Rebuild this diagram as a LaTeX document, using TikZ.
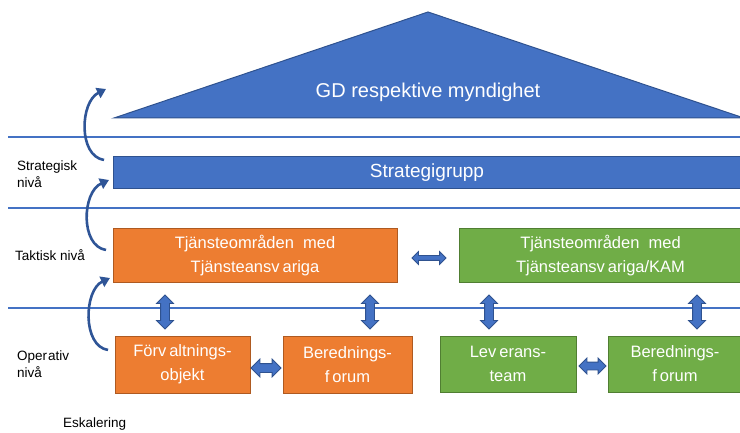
\documentclass[tikz,border=0pt]{standalone}
\usepackage{fontspec}
\setmainfont{Liberation Sans}
\usetikzlibrary{arrows.meta,shapes.arrows}

\definecolor{accblue}{HTML}{4472C4}
\definecolor{accblueline}{HTML}{2F528F}
\definecolor{accorange}{HTML}{ED7D31}
\definecolor{accorangeline}{HTML}{AE5A21}
\definecolor{accgreen}{HTML}{70AD47}
\definecolor{accgreenline}{HTML}{507E32}
\definecolor{arrowblue}{HTML}{2F5597}

\tikzset{
  levelline/.style={accblue, line width=1.3pt},
  boxbase/.style={rectangle, line width=1pt, inner sep=2pt, align=center,
    text=white, font=\fontsize{16.5}{24}\selectfont},
  bluebox/.style={boxbase, fill=accblue, draw=accblueline},
  orangebox/.style={boxbase, fill=accorange, draw=accorangeline},
  greenbox/.style={boxbase, fill=accgreen, draw=accgreenline},
  levellabel/.style={anchor=west, align=left, inner sep=0pt,
    font=\fontsize{13.5}{17}\selectfont},
  linkbase/.style={shape=double arrow, fill=accblue, draw=accblueline,
    line width=0.8pt, inner xsep=0pt, double arrow head indent=0pt},
  vlink/.style={linkbase, rotate=90, minimum height=34pt, inner ysep=4pt,
    double arrow head extend=4pt},
  hlink/.style={linkbase},
  escalate/.style={arrowblue, line width=2.6pt,
    -{Triangle[length=9pt,width=11pt]}},
}

\begin{document}
\begin{tikzpicture}[x=1pt,y=-1pt]
  \useasboundingbox (0,0) rectangle (740,433);

  % level separators
  \draw[levelline] (8,137) -- (742,137);
  \draw[levelline] (8,208) -- (742,208);
  \draw[levelline] (8,308) -- (742,308);

  % top management
  \fill[accblue, draw=accblueline, line width=1pt]
    (114,118) -- (428,12) -- (744,118) -- cycle;
  \node[text=white, font=\fontsize{20}{24}\selectfont] (gd) at (428,92)
    {GD respektive myndighet};

  % strategic level
  \node[bluebox, minimum width=628pt, minimum height=32pt,
    font=\fontsize{19}{22}\selectfont] (strat) at (427,173) {Strategigrupp};

  % tactical level
  \node[orangebox, minimum width=284pt, minimum height=54pt] (taktO) at (255,256)
    {Tjänsteområden\ \ med\\Tjänsteansv\kern3pt ariga};
  \node[greenbox, minimum width=283pt, minimum height=54pt] (taktG) at (600.5,256)
    {Tjänsteområden\ \ med\\Tjänsteansv\kern3pt ariga/KAM};

  % operative level
  \node[orangebox, minimum width=135pt, minimum height=57pt] (forv) at (182.5,364.5)
    {Förv\kern3pt altnings-\\objekt};
  \node[orangebox, minimum width=129pt, minimum height=57pt] (beredO) at (347.5,364.5)
    {Berednings-\\f\kern3pt orum};
  \node[greenbox, minimum width=136pt, minimum height=56pt] (lev) at (508,364)
    {Lev\kern3pt erans-\\team};
  \node[greenbox, minimum width=134pt, minimum height=56pt] (beredG) at (675,364)
    {Berednings-\\f\kern3pt orum};

  % links between boxes
  \node[hlink, minimum height=34pt, inner ysep=2pt, double arrow head extend=4pt]
    (hTop) at (429,258) {};
  \node[hlink, minimum height=30pt, inner ysep=4pt, double arrow head extend=4.5pt]
    (hOpL) at (266,368) {};
  \node[hlink, minimum height=27pt, inner ysep=3.5pt, double arrow head extend=4pt]
    (hOpR) at (592.5,366) {};

  \node[vlink] (v1) at (165,312) {};
  \node[vlink] (v2) at (370,312) {};
  \node[vlink] (v3) at (489,312) {};
  \node[vlink] (v4) at (697,312) {};

  % escalation arrows
  \coordinate (e1s) at (104,160);
  \coordinate (e1e) at (106,89);
  \coordinate (e2s) at (106,250);
  \coordinate (e2e) at (109,180);
  \coordinate (e3s) at (108,350);
  \coordinate (e3e) at (110,278);
  \draw[escalate] (e1s) .. controls (78,156) and (80,102) .. (e1e);
  \draw[escalate] (e2s) .. controls (80,246) and (82,192) .. (e2e);
  \draw[escalate] (e3s) .. controls (82,346) and (84,290) .. (e3e);

  % level labels
  \node[levellabel] (lStrat) at (17,174) {Strategisk\\nivå};
  \node[levellabel] (lTakt) at (15,255) {Taktisk nivå};
  \node[levellabel] (lOp) at (17,364) {Oper\kern0.8pt ativ\\nivå};
  \node[levellabel] (lEsk) at (63,424) {Eskalering};
\end{tikzpicture}
\end{document}
